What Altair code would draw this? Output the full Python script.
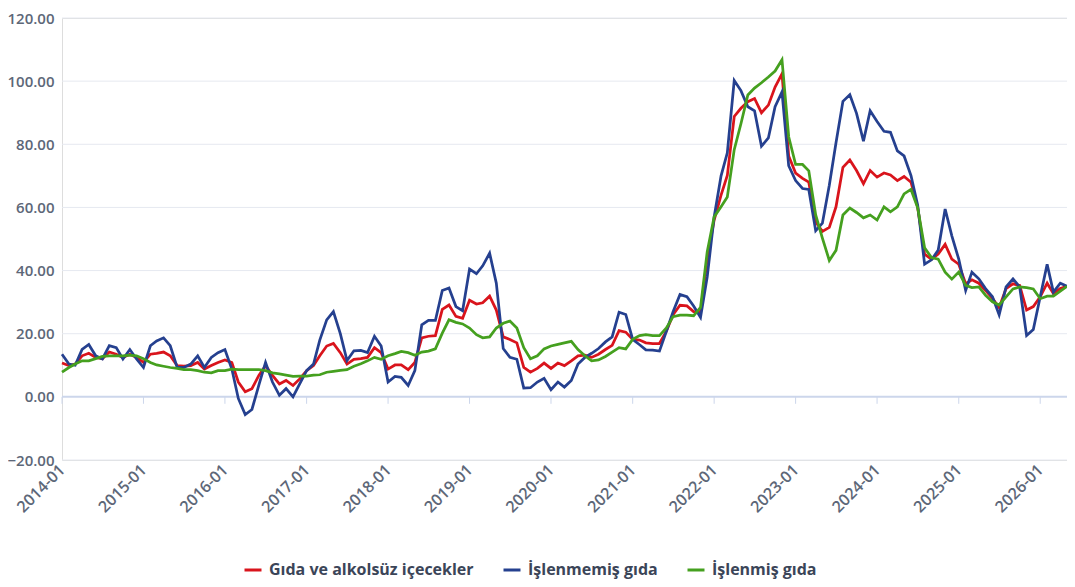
import altair as alt
import pandas as pd

# ---- data (monthly, 2014-01 .. 2026-05) ----
series_names = ["Gıda ve alkolsüz içecekler", "İşlenmemiş gıda", "İşlenmiş gıda"]
series_colors = ["#d9141c", "#25408f", "#45a01f"]

food_total = [
    10.7, 9.9, 10.4, 13.0, 13.8, 12.5, 12.1, 14.2, 13.5, 12.5, 13.5, 12.5,
    10.9, 13.5, 13.8, 14.2, 13.0, 9.9, 9.7, 9.9, 10.9, 8.8, 9.9, 10.9,
    11.7, 10.9, 4.7, 1.6, 2.6, 6.8, 9.9, 6.8, 4.1, 5.2, 3.6, 5.7,
    8.3, 9.9, 13.0, 16.1, 16.9, 14.0, 10.4, 11.9, 12.1, 12.5, 15.6, 14.0,
    8.8, 10.1, 10.1, 8.6, 10.9, 18.7, 19.2, 19.4, 27.7, 29.1, 25.5, 24.9,
    30.6, 29.4, 29.8, 31.9, 27.5, 19.0, 18.2, 17.1, 9.3, 7.8, 9.0, 10.7,
    9.0, 10.7, 9.9, 11.4, 13.0, 13.2, 12.5, 13.5, 15.0, 16.3, 21.0, 20.5,
    18.2, 18.0, 17.1, 16.9, 16.9, 20.8, 26.0, 29.0, 28.8, 27.0, 26.8, 43.8,
    56.0, 63.9, 70.1, 88.8, 91.4, 93.5, 94.5, 90.0, 92.4, 98.1, 102.3, 76.3,
    70.9, 69.2, 68.0, 55.5, 52.4, 53.7, 60.2, 72.7, 75.0, 71.7, 67.5, 71.7,
    69.6, 70.9, 70.3, 68.5, 69.8, 68.0, 60.0, 45.2, 43.6, 45.2, 48.3, 43.6,
    42.0, 35.8, 37.1, 36.0, 33.7, 31.2, 28.3, 34.3, 35.8, 35.3, 27.5, 28.6,
    31.7, 36.0, 32.7, 34.3, 35.0,
]

unprocessed = [
    13.5, 10.4, 10.0, 15.0, 16.6, 13.0, 12.0, 16.2, 15.6, 12.0, 15.0, 12.0,
    9.3, 16.2, 17.7, 18.7, 16.2, 9.3, 9.3, 10.4, 13.0, 9.3, 12.5, 14.0,
    15.0, 8.8, -0.5, -5.6, -4.0, 3.7, 10.9, 4.7, 0.5, 2.6, 0.0, 4.1,
    8.3, 10.4, 18.0, 24.4, 27.0, 20.0, 11.5, 14.6, 14.7, 14.0, 19.2, 16.1,
    4.7, 6.5, 6.2, 3.6, 8.3, 22.8, 24.2, 24.2, 33.7, 34.5, 28.6, 27.3,
    40.5, 39.0, 41.5, 45.5, 36.0, 15.3, 12.5, 11.9, 2.8, 2.9, 4.7, 5.9,
    2.3, 4.7, 3.1, 5.2, 10.4, 12.5, 13.8, 15.3, 17.4, 19.0, 26.8, 26.1,
    18.2, 16.5, 14.9, 14.8, 14.5, 20.8, 27.0, 32.4, 31.7, 28.8, 25.2, 38.0,
    57.0, 70.0, 77.3, 100.2, 97.0, 91.9, 90.6, 79.4, 82.0, 91.9, 96.6, 73.2,
    68.5, 66.0, 65.7, 52.6, 55.0, 67.0, 80.5, 93.6, 95.7, 89.8, 81.0, 90.6,
    87.2, 84.1, 83.8, 77.9, 76.3, 70.1, 60.7, 42.0, 43.4, 46.5, 59.5, 51.0,
    43.6, 33.7, 39.5, 37.4, 34.3, 31.7, 26.0, 34.8, 37.4, 34.8, 19.4, 21.3,
    31.7, 42.0, 33.2, 36.0, 35.0,
]

processed = [
    7.8, 9.3, 10.4, 11.4, 11.4, 12.1, 12.8, 13.0, 13.0, 13.0, 13.2, 13.0,
    12.1, 10.9, 10.1, 9.7, 9.3, 9.0, 8.6, 8.6, 8.3, 7.8, 7.6, 8.3,
    8.3, 8.8, 8.6, 8.6, 8.6, 8.6, 8.3, 7.6, 7.3, 6.9, 6.5, 6.6,
    6.6, 6.9, 7.0, 7.8, 8.1, 8.4, 8.6, 9.7, 10.5, 11.4, 12.5, 11.9,
    13.0, 13.7, 14.4, 14.0, 13.2, 14.2, 14.5, 15.2, 20.2, 24.4, 23.6, 23.1,
    21.8, 19.7, 18.7, 19.0, 21.8, 23.3, 24.0, 21.8, 15.6, 12.1, 13.0, 15.2,
    16.1, 16.6, 17.1, 17.6, 15.0, 13.0, 11.4, 11.7, 12.8, 14.2, 15.6, 15.2,
    18.2, 19.4, 19.7, 19.4, 19.4, 21.8, 25.4, 25.9, 25.9, 25.7, 28.3, 46.0,
    57.0, 60.2, 63.3, 78.3, 86.5, 95.6, 97.8, 99.5, 101.3, 103.2, 106.8, 82.4,
    73.6, 73.6, 71.6, 57.6, 50.3, 43.2, 46.4, 57.6, 59.8, 58.4, 56.7, 57.6,
    56.0, 60.2, 58.6, 60.2, 64.3, 65.7, 59.9, 47.2, 44.1, 43.6, 39.5, 37.3,
    39.5, 35.3, 34.6, 34.8, 32.2, 30.1, 29.1, 31.7, 34.2, 34.8, 34.6, 34.2,
    31.1, 31.9, 31.9, 33.5, 35.0,
]

months = [f"{2014 + i // 12}-{i % 12 + 1:02d}" for i in range(len(food_total))]
tick_years = list(range(2014, 2027))
y_tick_values = [-20, 0, 20, 40, 60, 80, 100, 120]
tick_len_units = 2.2

# ---- tables built from the arrays ----
rows = []
for name, vals in zip(series_names, [food_total, unprocessed, processed]):
    for m, v in zip(months, vals):
        rows.append({"date": f"{m}-01T00:00:00", "series": name, "value": v})
df = pd.DataFrame(rows)
ticks_df = pd.DataFrame({
    "date": [f"{y}-01-01T00:00:00" for y in tick_years],
    "top": [0.0] * len(tick_years),
    "bottom": [-tick_len_units] * len(tick_years),
})
grid_df = pd.DataFrame({"v": [v for v in y_tick_values if v != 0]})
zero_df = pd.DataFrame({"z": [0]})

label_color = "#5d6778"
font = "Open Sans"

x_scale = alt.Scale(
    domain=[alt.DateTime(year=2014, month=1, date=1), alt.DateTime(year=2026, month=5, date=1)],
    nice=False,
)
y_scale = alt.Scale(domain=[-20, 120], nice=False, zero=False)

x_axis = alt.Axis(
    values=[alt.DateTime(year=y, month=1, date=1) for y in tick_years],
    format="%Y-%m", labelAngle=-45, labelAlign="right", labelBaseline="middle",
    labelPadding=7, domain=False, ticks=False, grid=False, labelFlush=False,
    labelOverlap=False, labelFontSize=16, labelFontWeight=600, labelColor=label_color,
    labelFont=font, title=None,
)
y_axis = alt.Axis(
    values=y_tick_values, format=".2f", grid=False,
    domain=False, ticks=False, labelFontSize=15, labelFontWeight=600,
    labelColor=label_color, labelFont=font, labelPadding=8, title=None,
)

grid_lines = alt.Chart(grid_df).mark_rule(color="#e6e9f0", strokeWidth=1).encode(
    y=alt.Y("v:Q", scale=y_scale, axis=y_axis)
)

zero_line = alt.Chart(zero_df).mark_rule(color="#ccd6eb", strokeWidth=2).encode(
    y=alt.Y("z:Q", scale=y_scale, axis=y_axis)
)

year_ticks = alt.Chart(ticks_df).mark_rule(color="#ccd6eb", strokeWidth=1).encode(
    x=alt.X("date:T", scale=x_scale, axis=x_axis),
    y=alt.Y("top:Q", scale=y_scale, axis=y_axis),
    y2=alt.Y2("bottom:Q"),
)

lines = alt.Chart(df).mark_line(strokeWidth=2.75, interpolate="linear").encode(
    x=alt.X("date:T", scale=x_scale, axis=x_axis),
    y=alt.Y("value:Q", scale=y_scale, axis=y_axis),
    color=alt.Color(
        "series:N",
        scale=alt.Scale(domain=series_names, range=series_colors),
        sort=series_names,
        legend=alt.Legend(
            orient="none", legendX=181, legendY=542, direction="horizontal",
            title=None, symbolType="stroke", symbolStrokeWidth=3, symbolSize=289,
            labelFontSize=16, labelFontWeight="bold", labelColor="#3b4558",
            labelFont=font, columnPadding=23, labelOffset=6, labelLimit=0,
        ),
    ),
)

chart = (
    alt.layer(grid_lines, zero_line, year_ticks, lines)
    .properties(
        width=1005, height=442,
        padding={"left": 54, "top": 10, "right": 0, "bottom": 119},
        autosize=alt.AutoSizeParams(type="none"),
    )
    .configure_view(stroke="transparent", strokeWidth=0, strokeOpacity=0)
    .configure_axis(domain=False, grid=False, domainColor="transparent", domainWidth=0,
                    domainOpacity=0)
    .configure_axisY(domain=False, domainOpacity=0)
    .configure_axisLeft(domain=False, domainOpacity=0)
    .configure_axisQuantitative(domain=False, domainOpacity=0)
    .configure(font=font)
)

chart.save("out.html", embed_options={"renderer": "svg", "actions": False})
